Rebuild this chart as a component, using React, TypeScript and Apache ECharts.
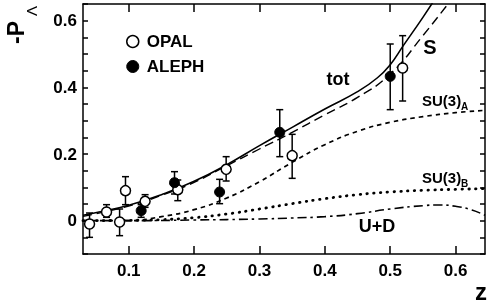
import React, { useEffect, useRef } from 'react';
import * as echarts from 'echarts';

// ---- data ----
const opalZ = [0.040, 0.066, 0.086, 0.095, 0.125, 0.175, 0.249, 0.350, 0.519];
const opalP = [-0.010, 0.026, -0.004, 0.090, 0.058, 0.093, 0.154, 0.195, 0.458];
const opalLo = [-0.050, 0.010, -0.045, 0.048, 0.040, 0.060, 0.119, 0.127, 0.359];
const opalHi = [0.023, 0.048, 0.035, 0.132, 0.078, 0.122, 0.192, 0.259, 0.555];

const alephZ = [0.119, 0.170, 0.239, 0.331, 0.500];
const alephP = [0.030, 0.114, 0.086, 0.265, 0.433];
const alephLo = [0.010, 0.080, 0.051, 0.192, 0.333];
const alephHi = [0.048, 0.147, 0.124, 0.333, 0.530];

const totZ = [0.03, 0.06, 0.1, 0.15, 0.2, 0.25, 0.3, 0.35, 0.4, 0.45, 0.48, 0.5, 0.52, 0.55, 0.57];
const totP = [0.016, 0.028, 0.046, 0.078, 0.118, 0.168, 0.225, 0.28, 0.335, 0.387, 0.428, 0.468, 0.525, 0.61, 0.67];

const sZ = [0.03, 0.1, 0.15, 0.2, 0.25, 0.3, 0.35, 0.4, 0.45, 0.5, 0.55, 0.6];
const sP = [0.013, 0.044, 0.076, 0.115, 0.165, 0.215, 0.265, 0.318, 0.37, 0.44, 0.555, 0.68];

const su3aZ = [0.03, 0.1, 0.15, 0.2, 0.25, 0.3, 0.35, 0.4, 0.45, 0.5, 0.55, 0.6, 0.645];
const su3aP = [0.0, 0.0, 0.012, 0.033, 0.068, 0.117, 0.175, 0.228, 0.268, 0.295, 0.312, 0.324, 0.331];

const su3bZ = [0.03, 0.1, 0.15, 0.2, 0.25, 0.3, 0.35, 0.4, 0.45, 0.5, 0.55, 0.6, 0.645];
const su3bP = [0.0, 0.001, 0.003, 0.009, 0.02, 0.035, 0.051, 0.066, 0.078, 0.086, 0.091, 0.094, 0.096];

const udZ = [0.03, 0.1, 0.2, 0.3, 0.35, 0.4, 0.45, 0.5, 0.55, 0.575, 0.6, 0.625, 0.645];
const udP = [0.0, 0.0, 0.002, 0.005, 0.008, 0.012, 0.021, 0.035, 0.045, 0.047, 0.043, 0.032, 0.016];

const xTicks = [0.1, 0.2, 0.3, 0.4, 0.5, 0.6];
const yLabels = [0, 0.2, 0.4, 0.6];

const FONT = '"Liberation Sans", Arial, Helvetica, sans-serif';

const pairs = (xs: number[], ys: number[]) => xs.map((x, i) => [x, ys[i]]);

function errRender(params: any, api: any) {
  const x = api.value(0);
  const lo = api.coord([x, api.value(1)]);
  const hi = api.coord([x, api.value(2)]);
  const w = 3.5;
  const st = { stroke: '#000', lineWidth: 1.5 };
  return {
    type: 'group',
    children: [
      { type: 'line', shape: { x1: lo[0], y1: lo[1], x2: hi[0], y2: hi[1] }, style: st },
      { type: 'line', shape: { x1: lo[0] - w, y1: lo[1], x2: lo[0] + w, y2: lo[1] }, style: st },
      { type: 'line', shape: { x1: hi[0] - w, y1: hi[1], x2: hi[0] + w, y2: hi[1] }, style: st },
    ],
  };
}

const txt = (text: string, x: number, y: number, size: number, align = 'center', weight = 'bold') => ({
  type: 'text',
  x,
  y,
  style: { text, fontSize: size, fontWeight: weight, fontFamily: FONT, fill: '#000', align, verticalAlign: 'middle' },
});

export default function App() {
  const ref = useRef<HTMLDivElement>(null);
  useEffect(() => {
    if (!ref.current) return;
    const chart = echarts.init(ref.current, null, { renderer: 'svg' });
    const axisLine = { show: true, onZero: false, lineStyle: { color: '#000', width: 1.5 } };
    const curve = (name: string, xs: number[], ys: number[], type: any, width: number, cap = 'butt') => ({
      type: 'line',
      name,
      data: pairs(xs, ys),
      showSymbol: false,
      smooth: true,
      lineStyle: { color: '#000', width, type, cap },
      clip: true,
      silent: true,
      z: 2,
    });
    chart.setOption({
      animation: false,
      grid: { left: 83, right: 2, top: 4, bottom: 53 },
      xAxis: [
        {
          type: 'value', min: 0.03, max: 0.645, position: 'bottom',
          axisLine, splitLine: { show: false },
          axisTick: { inside: true, length: 8, customValues: xTicks, lineStyle: { color: '#000', width: 1.5 } },
          axisLabel: { customValues: xTicks, formatter: (v: number) => v.toFixed(1), fontSize: 17, fontWeight: 'bold', fontFamily: FONT, color: '#000', margin: 8 },
        },
        {
          type: 'value', min: 0.03, max: 0.645, position: 'top',
          axisLine, splitLine: { show: false },
          axisTick: { inside: true, length: 8, customValues: xTicks, lineStyle: { color: '#000', width: 1.5 } },
          axisLabel: { show: false },
        },
      ],
      yAxis: [
        {
          type: 'value', min: -0.1, max: 0.65, interval: 0.05, position: 'left',
          axisLine, splitLine: { show: false },
          axisTick: { inside: true, length: 5, lineStyle: { color: '#000', width: 1.5 } },
          axisLabel: { customValues: yLabels, formatter: (v: number) => (Math.abs(v) < 1e-9 ? '0' : v.toFixed(1)), fontSize: 17, fontWeight: 'bold', fontFamily: FONT, color: '#000', margin: 6 },
        },
        {
          type: 'value', min: -0.1, max: 0.65, interval: 0.05, position: 'right',
          axisLine, splitLine: { show: false },
          axisTick: { inside: true, length: 5, lineStyle: { color: '#000', width: 1.5 } },
          axisLabel: { show: false },
        },
      ],
      legend: {
        orient: 'vertical', left: 121, top: 28, itemWidth: 12, itemHeight: 12, itemGap: 8,
        icon: 'circle',
        textStyle: { fontSize: 17, fontWeight: 'bold', fontFamily: FONT, color: '#000', lineHeight: 16, padding: [0, 0, 0, 3] },
        data: [
          { name: 'OPAL', itemStyle: { color: '#fff', borderColor: '#000', borderWidth: 1.5 } },
          { name: 'ALEPH', itemStyle: { color: '#000', borderColor: '#000', borderWidth: 1 } },
        ],
      },
      series: [
        curve('tot', totZ, totP, 'solid', 1.6),
        curve('S', sZ, sP, [9, 5], 1.4),
        curve('SU(3)A', su3aZ, su3aP, [4.5, 4], 1.7),
        curve('SU(3)B', su3bZ, su3bP, [0.5, 6.3], 2.8, 'round'),
        curve('U+D', udZ, udP, [9, 4, 2.5, 4], 1.6),
        {
          type: 'custom', name: 'opalErr', renderItem: errRender, encode: { x: 0, y: [1, 2] },
          data: opalZ.map((z, i) => [z, opalLo[i], opalHi[i]]), z: 3, silent: true,
        },
        {
          type: 'custom', name: 'alephErr', renderItem: errRender, encode: { x: 0, y: [1, 2] },
          data: alephZ.map((z, i) => [z, alephLo[i], alephHi[i]]), z: 3, silent: true,
        },
        {
          type: 'scatter', name: 'OPAL', data: pairs(opalZ, opalP), symbol: 'circle', symbolSize: 10,
          itemStyle: { color: '#fff', borderColor: '#000', borderWidth: 1.5, opacity: 1 }, z: 4,
        },
        {
          type: 'scatter', name: 'ALEPH', data: pairs(alephZ, alephP), symbol: 'circle', symbolSize: 10,
          itemStyle: { color: '#000', borderColor: '#000', borderWidth: 1, opacity: 1 }, z: 4,
        },
      ],
      graphic: [
        txt('tot', 338, 79, 18),
        txt('S', 430, 47, 20),
        txt('SU(3)', 422, 100, 15, 'left'),
        txt('A', 461, 106, 10, 'left'),
        txt('SU(3)', 422, 177, 15, 'left'),
        txt('B', 461, 183, 10, 'left'),
        txt('U+D', 377, 226, 18),
        txt('z', 481, 291, 24),
        {
          type: 'group', x: 16, y: 44, rotation: Math.PI / 2,
          children: [
            { type: 'text', x: 0, y: 0, style: { text: '-P', fontSize: 23, fontWeight: 'bold', fontFamily: FONT, fill: '#000', align: 'left', verticalAlign: 'middle' } },
            { type: 'text', x: 28, y: 15, style: { text: 'Λ', fontSize: 15, fontWeight: 'normal', fontFamily: FONT, fill: '#000', align: 'left', verticalAlign: 'middle' } },
          ],
        },
      ],
    });
    return () => chart.dispose();
  }, []);
  return <div ref={ref} style={{ position: 'fixed', left: 0, top: 0, width: 487, height: 307 }} />;
}
